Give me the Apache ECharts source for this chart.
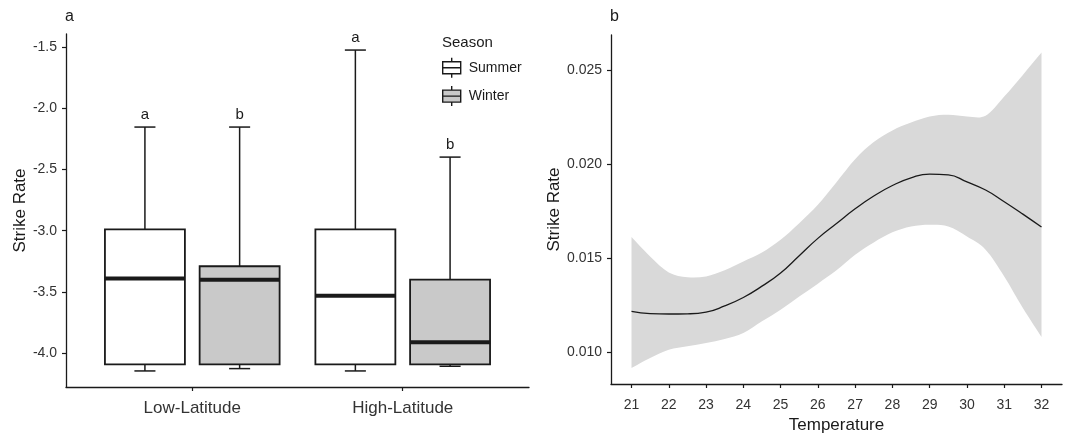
<!DOCTYPE html>
<html>
<head>
<meta charset="utf-8">
<script src="https://cdn.jsdelivr.net/npm/echarts@6/dist/echarts.min.js"></script>
<style>
html,body{margin:0;padding:0;background:#fff;}
#chart{width:1067px;height:433px;}
</style>
</head>
<body>
<div id="chart"></div>
<script>
// ---------- Panel a: box plots ----------
const categories = ['Low-Latitude', 'High-Latitude'];
const seasons = ['Summer', 'Winter'];
// [min, q1, median, q3, max] per category
const summerStats = [
  [-4.144, -4.09, -3.39, -2.99, -2.155],
  [-4.144, -4.09, -3.53, -2.99, -1.527]
];
const winterStats = [
  [-4.125, -4.09, -3.40, -3.29, -2.155],
  [-4.106, -4.09, -3.91, -3.40, -2.400]
];
const summerLetters = ['a', 'a'];
const winterLetters = ['b', 'b'];
const rateTicksA = [-4.0, -3.5, -3.0, -2.5, -2.0, -1.5];

// ---------- Panel b: smooth fit with CI ----------
const temperature = [21, 21.5, 22, 22.5, 23, 23.5, 24, 24.5, 25, 25.5, 26, 26.5, 27, 27.5, 28, 28.5, 29, 29.5, 30, 30.5, 31, 31.5, 32];
const fitRate = [0.01216, 0.01204, 0.01202, 0.01203, 0.01212, 0.01245, 0.0129, 0.0135, 0.0142, 0.01512, 0.01604, 0.01683, 0.01761, 0.01829, 0.01885, 0.01926, 0.01946, 0.01942, 0.01904, 0.01861, 0.01799, 0.01733, 0.01664];
const upperCI = [0.01611, 0.01508, 0.01423, 0.01398, 0.01402, 0.01434, 0.01481, 0.01529, 0.01597, 0.01685, 0.01783, 0.01903, 0.02025, 0.02116, 0.02178, 0.0222, 0.02252, 0.02261, 0.02252, 0.02256, 0.02358, 0.02473, 0.02592];
const lowerCI = [0.00915, 0.00968, 0.01012, 0.0103, 0.01048, 0.01069, 0.01101, 0.01163, 0.01225, 0.01295, 0.01363, 0.01434, 0.01517, 0.01582, 0.01636, 0.01667, 0.01676, 0.01667, 0.01614, 0.01544, 0.01402, 0.01234, 0.0108];
const tempTicks = [21, 22, 23, 24, 25, 26, 27, 28, 29, 30, 31, 32];
const rateTicksB = [0.010, 0.015, 0.020, 0.025];

const FONT = 'Liberation Sans, Arial, sans-serif';
const INK = '#1a1a1a';
const LABEL = '#333333';
const BOX_HALF = 0.19, CAP_HALF = 0.05, DODGE = 0.225;

function boxRender(offset, fill, letters) {
  return function (params, api) {
    const x = api.value(0) + offset;
    const mn = api.value(1), q1 = api.value(2), md = api.value(3), q3 = api.value(4), mx = api.value(5);
    const y = v => api.coord([x, v])[1];
    const cx = api.coord([x, md])[0];
    const l = api.coord([x - BOX_HALF, md])[0], r = api.coord([x + BOX_HALF, md])[0];
    const cl = api.coord([x - CAP_HALF, md])[0], cr = api.coord([x + CAP_HALF, md])[0];
    const ls = { stroke: INK, lineWidth: 1.5 };
    return {
      type: 'group',
      children: [
        { type: 'line', shape: { x1: cx, y1: y(q3), x2: cx, y2: y(mx) }, style: ls },
        { type: 'line', shape: { x1: cl, y1: y(mx), x2: cr, y2: y(mx) }, style: ls },
        { type: 'line', shape: { x1: cx, y1: y(q1), x2: cx, y2: y(mn) }, style: ls },
        { type: 'line', shape: { x1: cl, y1: y(mn), x2: cr, y2: y(mn) }, style: ls },
        { type: 'rect', shape: { x: l, y: y(q3), width: r - l, height: y(q1) - y(q3) }, style: { fill: fill, stroke: INK, lineWidth: 1.8 } },
        { type: 'line', shape: { x1: l, y1: y(md), x2: r, y2: y(md) }, style: { stroke: INK, lineWidth: 4 } },
        { type: 'text', x: cx, y: y(mx) - 5, style: { text: letters[params.dataIndex], align: 'center', verticalAlign: 'bottom', font: '15px ' + FONT, fill: INK } }
      ]
    };
  };
}

// Catmull-Rom -> cubic bezier path through pixel points
function splinePath(pts) {
  let d = '';
  for (let i = 0; i < pts.length - 1; i++) {
    const p0 = pts[Math.max(i - 1, 0)], p1 = pts[i], p2 = pts[i + 1], p3 = pts[Math.min(i + 2, pts.length - 1)];
    const c1 = [p1[0] + (p2[0] - p0[0]) / 6, p1[1] + (p2[1] - p0[1]) / 6];
    const c2 = [p2[0] - (p3[0] - p1[0]) / 6, p2[1] - (p3[1] - p1[1]) / 6];
    d += 'C' + c1[0] + ',' + c1[1] + ' ' + c2[0] + ',' + c2[1] + ' ' + p2[0] + ',' + p2[1];
  }
  return d;
}

function bandRender(params, api) {
  if (params.dataIndexInside !== 0) return null;
  const n = params.dataInsideLength;
  const up = [], lo = [];
  for (let i = 0; i < n; i++) {
    const t = api.value(0, i);
    up.push(api.coord([t, api.value(2, i)]));
    lo.push(api.coord([t, api.value(1, i)]));
  }
  lo.reverse();
  const d = 'M' + up[0][0] + ',' + up[0][1] + splinePath(up) +
    'L' + lo[0][0] + ',' + lo[0][1] + splinePath(lo) + 'Z';
  return { type: 'path', shape: { pathData: d }, style: { fill: '#d9d9d9' } };
}

const summerData = summerStats.map((s, i) => [i + 1].concat(s));
const winterData = winterStats.map((s, i) => [i + 1].concat(s));
const catPos = categories.map((c, i) => i + 1);
const bandData = temperature.map((t, i) => [t, lowerCI[i], upperCI[i]]);

const chart = echarts.init(document.getElementById('chart'), null, { renderer: 'canvas' });
const axisLineStyle = { show: true, lineStyle: { color: INK, width: 1.3 } };
const tickStyle = { show: true, length: 4, lineStyle: { color: INK, width: 1.2 } };

chart.setOption({
  animation: false,
  backgroundColor: '#ffffff',
  textStyle: { fontFamily: FONT },
  graphic: [
    { type: 'text', left: 65, top: 9, style: { text: 'a', font: '16px ' + FONT, fill: INK } },
    { type: 'text', left: 610, top: 9, style: { text: 'b', font: '16px ' + FONT, fill: INK } },
    { type: 'text', left: 442, top: 35, style: { text: 'Season', font: '15px ' + FONT, fill: INK } }
  ],
  legend: {
    orient: 'vertical',
    left: 442, top: 57, padding: 0,
    itemWidth: 18, itemHeight: 20, itemGap: 7,
    selectedMode: false,
    textStyle: { fontSize: 14, color: INK, fontFamily: FONT, padding: [0, 0, 0, 3] },
    data: [
      { name: 'Summer', icon: 'path://M9,0V4M0,4H18V16H0ZM0,10H18M9,16V20', itemStyle: { color: '#ffffff', borderColor: INK, borderWidth: 1.4 } },
      { name: 'Winter', icon: 'path://M9,0V4M0,4H18V16H0ZM0,10H18M9,16V20', itemStyle: { color: '#c9c9c9', borderColor: INK, borderWidth: 1.4 } }
    ]
  },
  grid: [
    { left: 66, top: 34, width: 463, height: 353, outerBoundsMode: 'none', containLabel: false },
    { left: 611, top: 35, width: 451, height: 349, outerBoundsMode: 'none', containLabel: false }
  ],
  xAxis: [
    {
      type: 'value', gridIndex: 0, min: 0.4, max: 2.6,
      axisLine: axisLineStyle,
      axisTick: Object.assign({}, tickStyle, { customValues: catPos }),
      axisLabel: { customValues: catPos, formatter: v => categories[Math.round(v) - 1], fontSize: 17, color: LABEL, margin: 13 },
      splitLine: { show: false }
    },
    {
      type: 'value', gridIndex: 1, min: 20.45, max: 32.55,
      name: 'Temperature', nameLocation: 'middle', nameGap: 31,
      nameTextStyle: { fontSize: 17, color: INK },
      axisLine: axisLineStyle,
      axisTick: Object.assign({}, tickStyle, { customValues: tempTicks }),
      axisLabel: { customValues: tempTicks, fontSize: 14, color: LABEL, margin: 14 },
      splitLine: { show: false }
    }
  ],
  yAxis: [
    {
      type: 'value', gridIndex: 0, min: -4.275, max: -1.396,
      name: 'Strike Rate', nameLocation: 'middle', nameGap: 37,
      nameTextStyle: { fontSize: 17, color: INK },
      axisLine: axisLineStyle,
      axisTick: Object.assign({}, tickStyle, { customValues: rateTicksA }),
      axisLabel: { customValues: rateTicksA, formatter: v => v.toFixed(1), fontSize: 14, color: LABEL, margin: 9 },
      splitLine: { show: false }
    },
    {
      type: 'value', gridIndex: 1, min: 0.0083, max: 0.02685,
      name: 'Strike Rate', nameLocation: 'middle', nameGap: 46,
      nameTextStyle: { fontSize: 17, color: INK },
      axisLine: axisLineStyle,
      axisTick: Object.assign({}, tickStyle, { customValues: rateTicksB }),
      axisLabel: { customValues: rateTicksB, formatter: v => v.toFixed(3), fontSize: 14, color: LABEL, margin: 9 },
      splitLine: { show: false }
    }
  ],
  series: [
    {
      name: seasons[0], type: 'custom', xAxisIndex: 0, yAxisIndex: 0,
      itemStyle: { color: '#ffffff', borderColor: INK },
      encode: { x: 0, y: [1, 2, 3, 4, 5] },
      renderItem: boxRender(-DODGE, '#ffffff', summerLetters),
      data: summerData
    },
    {
      name: seasons[1], type: 'custom', xAxisIndex: 0, yAxisIndex: 0,
      itemStyle: { color: '#c9c9c9', borderColor: INK },
      encode: { x: 0, y: [1, 2, 3, 4, 5] },
      renderItem: boxRender(DODGE, '#c9c9c9', winterLetters),
      data: winterData
    },
    {
      name: 'ciBand', type: 'custom', xAxisIndex: 1, yAxisIndex: 1,
      encode: { x: 0, y: [1, 2] },
      renderItem: bandRender,
      data: bandData,
      z: 1
    },
    {
      name: 'fit', type: 'line', xAxisIndex: 1, yAxisIndex: 1,
      smooth: true, symbol: 'none',
      lineStyle: { color: INK, width: 1.3 },
      data: fitRate.map((v, i) => [temperature[i], v]),
      z: 5
    }
  ]
});
</script>
</body>
</html>
